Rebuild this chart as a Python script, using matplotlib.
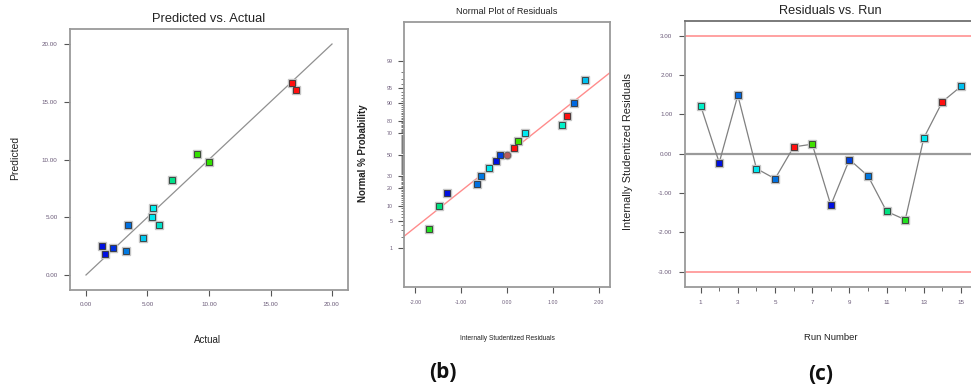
import math
import numpy as np
import matplotlib
matplotlib.use("Agg")
import matplotlib.pyplot as plt
from matplotlib.ticker import FixedLocator, FixedFormatter, NullFormatter

# ---------------- data ----------------
# (a) Predicted vs. Actual
actual = [16.72, 17.10, 9.00, 9.97, 6.97, 5.47, 5.34, 5.96, 4.66, 3.39, 3.25, 1.33, 1.57, 2.17]
predicted = [16.60, 16.00, 10.48, 9.81, 8.25, 5.83, 5.05, 4.30, 3.23, 4.30, 2.05, 2.51, 1.79, 2.36]
colors_a = ["#ff1010", "#ff1010", "#33e000", "#33e000", "#00e088", "#00f0f0", "#00e8f0",
            "#00e0c8", "#00c8f0", "#0070e0", "#0078e0", "#0010e0", "#0010e0", "#0030e0"]
diag = [0.0, 20.0]
ticks_a = [0, 5, 10, 15, 20]
ticklabels_a = ["0.00", "5.00", "10.00", "15.00", "20.00"]

# (b) Normal plot of residuals
resid_sorted = [-1.71, -1.48, -1.31, -0.65, -0.57, -0.40, -0.24, -0.16, 0.153, 0.23, 0.39, 1.21, 1.31, 1.47, 1.70]
prob_pct = [3.3, 10.0, 16.7, 23.3, 30.0, 36.7, 43.3, 50.0, 56.7, 63.3, 70.0, 76.7, 83.3, 90.0, 96.7]
colors_b = ["#22e020", "#00e080", "#0010e0", "#0070e0", "#0078e0", "#00e8f0", "#0010e0",
            "#0040e0", "#ff1010", "#40e000", "#00e8f0", "#00f0c8", "#ff1010", "#0068e0", "#00c0f0"]
circle_x = [0.0]
circle_p = [50.0]
refline_x = [-2.27, 2.25]
refline_p = [2.02, 97.9]
prob_major = [1, 5, 10, 20, 30, 50, 70, 80, 90, 95, 99]
xticks_b = [-2, -1, 0, 1, 2]
xticklabels_b = ["-2.00", "-1.00", "0.00", "1.00", "2.00"]

# (c) Residuals vs. Run
runs = list(range(1, 16))
resid_run = [1.22, -0.23, 1.48, -0.38, -0.64, 0.17, 0.24, -1.31, -0.15, -0.57, -1.47, -1.68, 0.40, 1.32, 1.71]
colors_c = ["#00f0c8", "#0010e0", "#0068e0", "#00e8f0", "#0070e0", "#ff1010", "#40e000", "#0010e0",
            "#0040e0", "#0078e0", "#00e080", "#22e020", "#00e8f0", "#ff1010", "#00c0f0"]
limits_c = [3.0, -3.0]
yticks_c = [-3, -2, -1, 0, 1, 2, 3]
yticklabels_c = ["-3.00", "-2.00", "-1.00", "0.00", "1.00", "2.00", "3.00"]

# ---------------- helpers ----------------
_a = [-3.969683028665376e+01, 2.209460984245205e+02, -2.759285104469687e+02,
      1.383577518672690e+02, -3.066479806614716e+01, 2.506628277459239e+00]
_b = [-5.447609879822406e+01, 1.615858368580409e+02, -1.556989798598866e+02,
      6.680131188771972e+01, -1.328068155288572e+01]
_c = [-7.784894002430293e-03, -3.223964580411365e-01, -2.400758277161838e+00,
      -2.549732539343734e+00, 4.374664141464968e+00, 2.938163982698783e+00]
_d = [7.784695709041462e-03, 3.224671290700398e-01, 2.445134137142996e+00, 3.754408661907416e+00]


def _ppf1(p):
    p = min(max(p, 1e-9), 1 - 1e-9)
    plow = 0.02425
    if p < plow:
        q = math.sqrt(-2 * math.log(p))
        return (((((_c[0]*q+_c[1])*q+_c[2])*q+_c[3])*q+_c[4])*q+_c[5]) / \
               ((((_d[0]*q+_d[1])*q+_d[2])*q+_d[3])*q+1)
    if p > 1 - plow:
        q = math.sqrt(-2 * math.log(1 - p))
        return -(((((_c[0]*q+_c[1])*q+_c[2])*q+_c[3])*q+_c[4])*q+_c[5]) / \
                ((((_d[0]*q+_d[1])*q+_d[2])*q+_d[3])*q+1)
    q = p - 0.5
    r = q * q
    return (((((_a[0]*r+_a[1])*r+_a[2])*r+_a[3])*r+_a[4])*r+_a[5])*q / \
           (((((_b[0]*r+_b[1])*r+_b[2])*r+_b[3])*r+_b[4])*r+1)


def fwd(pct):
    arr = np.asarray(pct, dtype=float)
    out = np.array([_ppf1(v / 100.0) for v in arr.ravel()])
    return out.reshape(arr.shape)


def inv(z):
    arr = np.asarray(z, dtype=float)
    out = np.array([50.0 * (1 + math.erf(v / math.sqrt(2))) for v in arr.ravel()])
    return out.reshape(arr.shape)


W, H = 971, 388
fig = plt.figure(figsize=(W / 100, H / 100), dpi=100)
fig.patch.set_facecolor("white")

sans = ["Liberation Sans", "DejaVu Sans"]
narrow = sans
tick_col = "#6a5a78"
spine_col = "#9a9a9a"


def rect(l, t, r, b):
    return [l / W, 1 - b / H, (r - l) / W, (b - t) / H]


def ftext(x, y, s, **kw):
    fig.text(x / W, 1 - y / H, s, ha="center", va="center", **kw)


def style(ax):
    for s in ax.spines.values():
        s.set_color(spine_col)
        s.set_linewidth(1.3)
    ax.tick_params(direction="out", length=4, width=0.8, color="#555555",
                   labelsize=4.5, labelcolor=tick_col, pad=5)
    for lab in ax.get_xticklabels() + ax.get_yticklabels():
        lab.set_family(narrow)


mk = dict(marker="s", markersize=4.6, markeredgecolor="#333333", markeredgewidth=0.6, linestyle="none")
halo = dict(marker="s", markersize=5.8, color="#c4c4c4", linestyle="none")

# ---------------- (a) ----------------
ax1 = fig.add_axes(rect(70, 29, 348, 290))
ax1.plot(diag, diag, color="#909090", lw=0.9, zorder=1)
for x, y, c in zip(actual, predicted, colors_a):
    ax1.plot([x], [y], zorder=2, **halo)
    ax1.plot([x], [y], color=c, zorder=3, **mk)
ax1.set_xlim(-1.3, 21.3)
ax1.set_ylim(-1.3, 21.3)
ax1.set_xticks(ticks_a)
ax1.set_xticklabels(ticklabels_a)
ax1.set_yticks(ticks_a)
ax1.set_yticklabels(ticklabels_a)
style(ax1)
ftext(209, 19, "Predicted vs. Actual", fontsize=9.3, family=narrow, color="#222222")
ftext(207, 340, "Actual", fontsize=7, family=sans, color="#222222")
ftext(15, 158, "Predicted", fontsize=7.5, family=sans, color="#222222", rotation=90)

# ---------------- (b) ----------------
ax2 = fig.add_axes(rect(404, 22, 610, 287))
ax2.set_yscale("function", functions=(fwd, inv))
ax2.set_ylim(0.05, 99.95)
ax2.set_xlim(-2.25, 2.25)
ax2.plot(refline_x, refline_p, color="#ff8c8c", lw=1.0, zorder=1)
for x, y, c in zip(resid_sorted, prob_pct, colors_b):
    ax2.plot([x], [y], zorder=2, **halo)
    ax2.plot([x], [y], color=c, zorder=3, **mk)
ax2.plot(circle_x, circle_p, marker="o", markersize=5.8, color="#c4c4c4", linestyle="none", zorder=2)
ax2.plot(circle_x, circle_p, marker="o", markersize=4.8, color="#b85a5a", markeredgecolor="#555555",
         markeredgewidth=0.5, linestyle="none", zorder=3)
ax2.yaxis.set_major_locator(FixedLocator(prob_major))
ax2.yaxis.set_major_formatter(FixedFormatter([str(v) for v in prob_major]))
ax2.yaxis.set_minor_locator(FixedLocator([v for v in range(1, 100) if v not in prob_major]))
ax2.yaxis.set_minor_formatter(NullFormatter())
ax2.set_xticks(xticks_b)
ax2.set_xticklabels(xticklabels_b)
style(ax2)
ax2.tick_params(axis="y", which="minor", length=2.2, width=0.5, color="#444444", direction="out")
ax2.tick_params(axis="y", which="major", length=4, labelsize=3.8, pad=4)
ax2.tick_params(axis="x", labelsize=3.8)
ftext(507, 12, "Normal Plot of Residuals", fontsize=6.6, family=narrow, color="#222222")
ftext(507, 338, "Internally Studentized Residuals", fontsize=4.8, family=narrow, color="#222222")
ftext(363, 153, "Normal % Probability", fontsize=7, family=sans, color="#222222",
      rotation=90, fontweight="bold")
ftext(443, 373, "(b)", fontsize=15, family=["Open Sans", "DejaVu Sans"], fontweight="bold", color="#111111")

# ---------------- (c) ----------------
ax3 = fig.add_axes(rect(685, 21, 975, 287))
ax3.set_xlim(0.16, 15.75)
ax3.set_ylim(-3.39, 3.37)
for v in limits_c:
    ax3.axhline(v, color="#ff9a9a", lw=1.3, zorder=1)
ax3.axhline(0, color="#9a9a9a", lw=1.6, zorder=1)
ax3.plot(runs, resid_run, color="#808080", lw=0.9, zorder=2)
for x, y, c in zip(runs, resid_run, colors_c):
    ax3.plot([x], [y], zorder=3, **halo)
    ax3.plot([x], [y], color=c, zorder=4, **mk)
ax3.set_xticks([r for r in runs if r % 2 == 1])
ax3.set_xticks([r for r in runs if r % 2 == 0], minor=True)
ax3.set_yticks(yticks_c)
ax3.set_yticklabels(yticklabels_c)
style(ax3)
ax3.spines["top"].set_color("#707070")
ax3.tick_params(axis="x", which="minor", length=3, width=0.6, color="#555555", direction="out")
ftext(830, 11, "Residuals vs. Run", fontsize=9.2, family=narrow, color="#222222")
ftext(831, 338, "Run Number", fontsize=6.8, family=sans, color="#222222")
ftext(628, 152, "Internally Studentized Residuals", fontsize=7.8, family=sans, color="#222222", rotation=90)
ftext(821, 375, "(c)", fontsize=15, family=["Open Sans", "DejaVu Sans"], fontweight="bold", color="#111111")

fig.savefig("out.png", dpi=100, facecolor="white")
